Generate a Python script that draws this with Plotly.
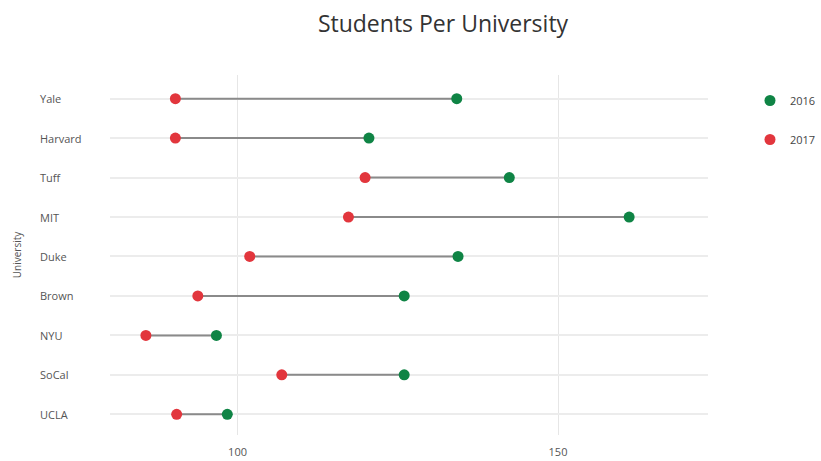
import plotly.graph_objects as go

schools = ["Yale", "Harvard", "Tuff", "MIT", "Duke", "Brown", "NYU", "SoCal", "UCLA"]
students_2016 = [134.2, 120.5, 142.4, 161.1, 134.4, 126.0, 96.7, 126.0, 98.4]
students_2017 = [90.3, 90.3, 119.9, 117.3, 101.9, 93.8, 85.7, 106.9, 90.5]
x_ticks = [100, 150]

GREEN = "#0f8445"
RED = "#e2363d"
FONT = "Open Sans"

fig = go.Figure()

# connecting lines
for s, a, b in zip(schools, students_2017, students_2016):
    fig.add_trace(go.Scatter(
        x=[a, b], y=[s, s], mode="lines",
        line=dict(color="#8a8a8a", width=2),
        showlegend=False, hoverinfo="skip",
    ))

fig.add_trace(go.Scatter(
    x=students_2016, y=schools, mode="markers", name="2016",
    legendgroup="a",
    marker=dict(color=GREEN, size=11),
))
fig.add_trace(go.Scatter(
    x=students_2017, y=schools, mode="markers", name="2017",
    legendgroup="b",
    marker=dict(color=RED, size=11),
))

# left-aligned category labels
for s in schools:
    fig.add_annotation(
        x=-72 / 598, xref="paper", y=s, yref="y", text=s,
        showarrow=False, xanchor="left", yanchor="middle",
        font=dict(family=FONT, size=11, color="#555555"),
    )

fig.update_layout(
    width=821, height=461,
    margin=dict(l=110, r=113, t=75, b=26, autoexpand=False),
    paper_bgcolor="white", plot_bgcolor="white",
    font=dict(family=FONT, size=11, color="#555555"),
    title=dict(
        text="Students Per University",
        x=443 / 821, xanchor="center", xref="container",
        y=1 - 24 / 461, yanchor="middle", yref="container",
        font=dict(family=FONT, size=23, color="#333333"),
    ),
    legend=dict(
        xref="container", yref="container",
        x=750 / 821, xanchor="left", y=1 - 86 / 461, yanchor="top",
        tracegroupgap=20, traceorder="grouped",
        font=dict(family=FONT, size=11, color="#444444"),
        bgcolor="rgba(0,0,0,0)",
    ),
    xaxis=dict(
        range=[80.1, 173.4], tickvals=x_ticks,
        showgrid=True, gridcolor="#e6e6e6", gridwidth=1,
        zeroline=False, showline=False, automargin=False,
        ticklabelstandoff=9,
        tickfont=dict(family=FONT, size=11, color="#555555"),
    ),
    yaxis=dict(
        type="category",
        categoryorder="array", categoryarray=schools[::-1],
        range=[-0.525, 8.6], automargin=False,
        showgrid=True, gridcolor="#ececec", gridwidth=1.5,
        zeroline=False, showline=False, showticklabels=False,
        title=dict(text="University", standoff=85,
                   font=dict(family=FONT, size=10, color="#555555")),
    ),
)

fig.write_html("out.html")
